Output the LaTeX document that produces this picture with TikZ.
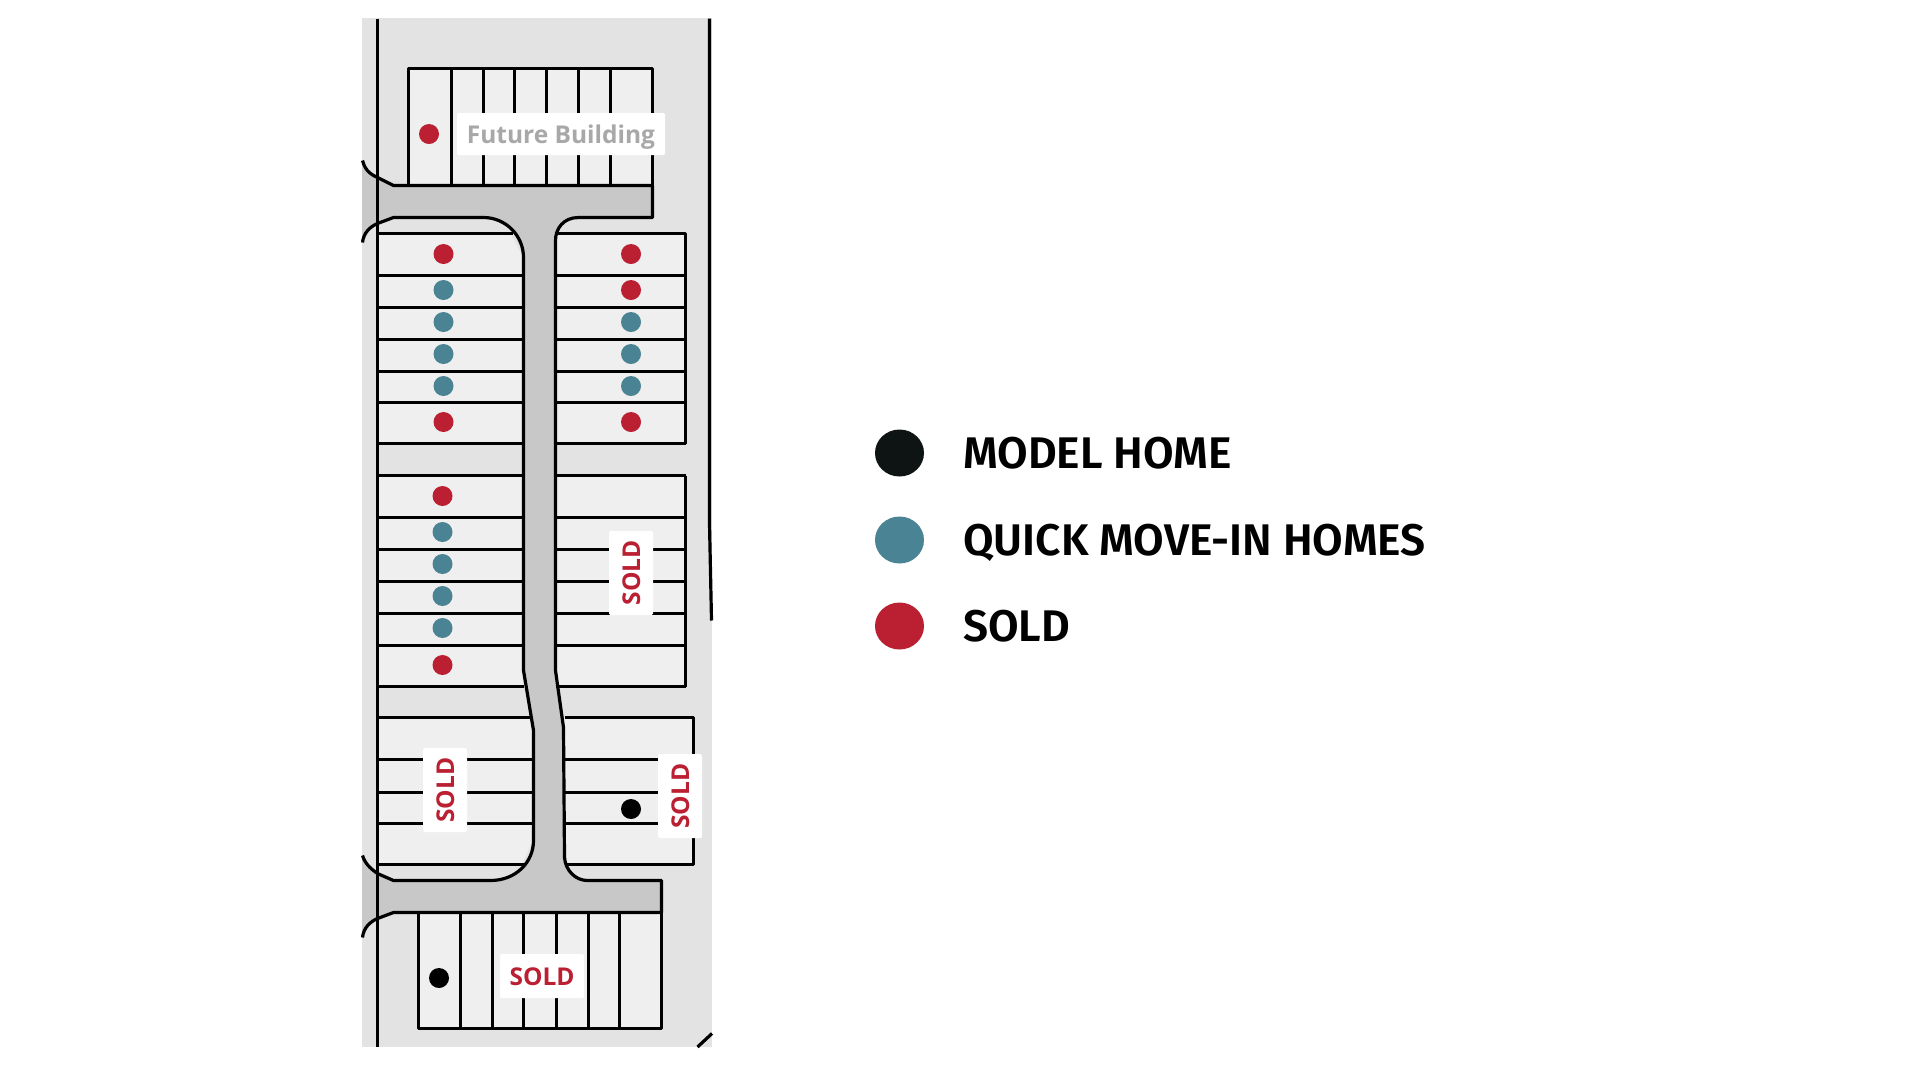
\documentclass[tikz,border=0pt]{standalone}
\usepackage{fontspec}
\setmainfont{Open Sans}
\newfontfamily\legendfont{Fira Sans SemiBold}
\definecolor{yard}{HTML}{E3E3E3}
\definecolor{lot}{HTML}{EFEFEF}
\definecolor{road}{HTML}{C8C8C8}
\definecolor{soldred}{HTML}{BA1F32}
\definecolor{quickteal}{HTML}{4A8394}
\definecolor{modelblack}{HTML}{0E1414}
\tikzset{
	plan/.style={draw=black, line width=3.2pt, line join=round, shift={(0.5,0.5)}},
	dot/.style={circle, minimum size=20pt, inner sep=0pt},
	legenddot/.style={ellipse, minimum width=49pt, minimum height=47pt, inner sep=0pt},
	legendtext/.style={anchor=base west, inner sep=0pt, font=\legendfont\fontsize{44.3}{44.3}\selectfont},
	tag/.style={fill=white, rounded corners=1.5pt, text=soldred, inner sep=0pt, text height=18pt, text depth=0pt, font=\bfseries\fontsize{24.5}{24.5}\selectfont}
}
\usetikzlibrary{shapes.geometric}
\begin{document}
\begin{tikzpicture}[x=1pt, y=-1pt]
		\useasboundingbox (0,0) rectangle (1920,1080);
		\fill[white] (0,0) rectangle (1920,1080);
		\fill[yard] (362,18) rectangle (712,1047);
		% lots
		\fill[lot] (408,68) rectangle (652,185);
		\fill[lot] (377,233) -- (510,233) -- (523,257) -- (523,443) -- (377,443) -- cycle;
		\fill[lot] (555,233) rectangle (685,443);
		\fill[lot] (377,475) rectangle (523,686);
		\fill[lot] (555,475) rectangle (685,686);
		\fill[lot] (377,717) -- (530,717) -- (533,730) -- (533,840) -- (522,864) -- (377,864) -- cycle;
		\fill[lot] (563,717) rectangle (693,864);
		\fill[lot] (418,912) rectangle (661,1028);
		% road
		\fill[road] (362,160) .. controls (365,172) and (373,175) .. (377,177) -- (393,185) -- (652,185) -- (652,217) -- (578,217) .. controls (563,217) and (555,228) .. (555,240) -- (555,670) -- (563,727) -- (564,857) .. controls (565,870) and (575,880) .. (587,880) -- (661,880) -- (661,912) -- (393,912) -- (377,918) .. controls (370,921) and (363,927) .. (362,937) -- (362,855) .. controls (365,865) and (373,870) .. (377,873) -- (393,880) -- (490,880) .. controls (515,880) and (533,862) .. (533,840) -- (533,730) -- (523,670) -- (523,257) .. controls (523,235) and (505,217) .. (483,217) -- (393,217) -- (377,223) .. controls (370,226) and (363,232) .. (362,242) -- cycle;
		% road edges
		\draw[plan] (362,160) .. controls (365,172) and (373,175) .. (377,177) -- (393,185) -- (652,185) -- (652,217) -- (578,217) .. controls (563,217) and (555,228) .. (555,240) -- (555,670) -- (563,727) -- (564,857) .. controls (565,870) and (575,880) .. (587,880) -- (661,880) -- (661,912) -- (393,912) -- (377,918) .. controls (370,921) and (363,927) .. (362,937);
		\draw[plan] (362,855) .. controls (365,865) and (373,870) .. (377,873) -- (393,880) -- (490,880) .. controls (515,880) and (533,862) .. (533,840) -- (533,730) -- (523,670) -- (523,257) .. controls (523,235) and (505,217) .. (483,217) -- (393,217) -- (377,223) .. controls (370,226) and (363,232) .. (362,242);
		% boundary
		\draw[plan] (377,18) -- (377,1046.5);
		\draw[plan] (709,18) -- (709,523) -- (711,620);
		\draw[plan] (697,1046.5) -- (711.5,1033);
		% top and bottom blocks
		\draw[plan] (408,185) -- (408,68) -- (652,68) -- (652,185);
		\foreach \x in {451,483,514,546,578,610}
			\draw[plan] (\x,68) -- (\x,185);
		\draw[plan] (418,912) -- (418,1028) -- (661,1028) -- (661,912);
		\foreach \x in {460,492,523,556,588,619}
			\draw[plan] (\x,912) -- (\x,1028);
		% rows
		\foreach \y in {275,307,339,371,402,443,475,517,549,581,613,645,686}
			\draw[plan] (377,\y) -- (523,\y);
		\foreach \y in {275,307,339,371,402,443,475,517,549,581,613,645,686}
			\draw[plan] (555,\y) -- (685,\y);
		\draw[plan] (377,233) -- (512,233);
		\draw[plan] (555,233) -- (685,233) -- (685,443);
		\draw[plan] (685,475) -- (685,686);
		\foreach \y in {717,759,792,823}
			\draw[plan] (377,\y) -- (532,\y);
		\draw[plan] (377,864) -- (524,864);
		\draw[plan] (564,717) -- (693,717) -- (693,864) -- (565,864);
		\foreach \y in {759,792,823}
			\draw[plan] (564,\y) -- (693,\y);
		% tags
		\node[tag, minimum width=208pt, minimum height=42pt, text=black!34] (futuretag) at (561,134) {Future Building};
		\node[tag, rotate=90, minimum width=84pt, minimum height=44pt] (soldmid) at (631,573) {SOLD};
		\node[tag, rotate=90, minimum width=84pt, minimum height=44pt] (soldleft) at (445,790) {SOLD};
		\node[tag, rotate=90, minimum width=84pt, minimum height=44pt] (soldright) at (680,796) {SOLD};
		\node[tag, minimum width=84pt, minimum height=44pt] (soldbottom) at (542,976) {SOLD};
		% dots
		\node[dot, fill=soldred] (future) at (429,134) {};
		\foreach \y/\c [count=\i] in {254/soldred,290/quickteal,322/quickteal,354/quickteal,386/quickteal,422/soldred}
			\node[dot, fill=\c] (upleft\i) at (443.5,\y) {};
		\foreach \y/\c [count=\i] in {254/soldred,290/soldred,322/quickteal,354/quickteal,386/quickteal,422/soldred}
			\node[dot, fill=\c] (upright\i) at (631,\y) {};
		\foreach \y/\c [count=\i] in {496/soldred,532/quickteal,564/quickteal,596/quickteal,628/quickteal,665/soldred}
			\node[dot, fill=\c] (lowleft\i) at (442.5,\y) {};
		\node[dot, fill=black] (modelright) at (631,809) {};
		\node[dot, fill=black] (modelbottom) at (439,978) {};
		% legend
		\node[legenddot, fill=modelblack] (modelkey) at (899.5,453) {};
		\node[legenddot, fill=quickteal] (quickkey) at (899.5,540) {};
		\node[legenddot, fill=soldred] (soldkey) at (899.5,626) {};
		\node[legendtext] (modeltext) at (963,468) {MODEL HOME};
		\node[legendtext] (quicktext) at (963,555) {QUICK MOVE-IN HOMES};
		\node[legendtext] (soldtext) at (963,641) {SOLD};
	\end{tikzpicture}
\end{document}
